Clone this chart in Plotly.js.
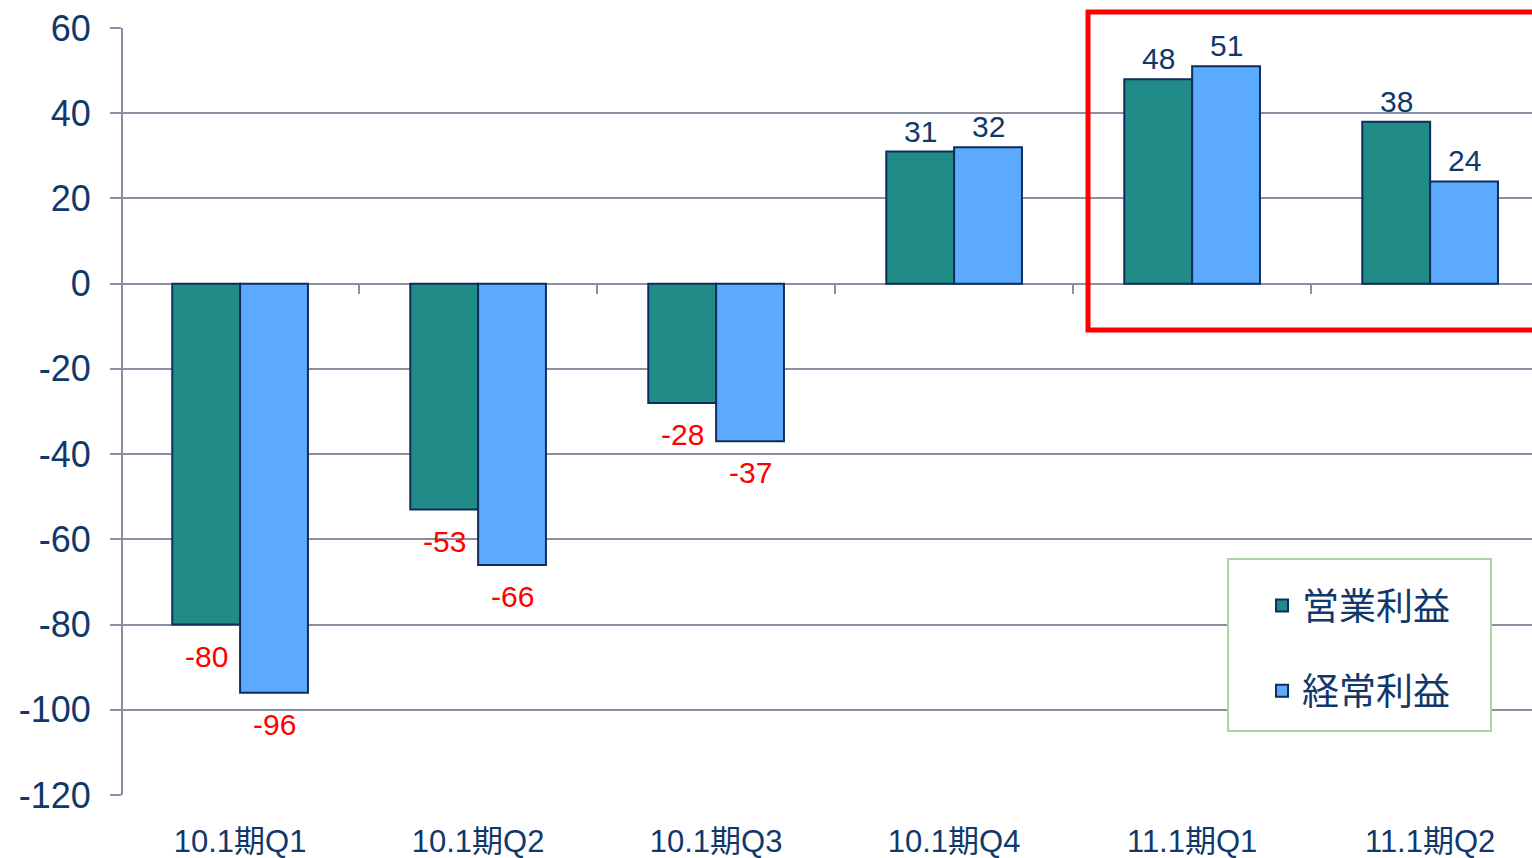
<!DOCTYPE html>
<html>
<head>
<meta charset="utf-8">
<script src="https://cdn.plot.ly/plotly-3.0.1.min.js"></script>
<style>
  html, body { margin: 0; padding: 0; background: #fff; overflow: hidden; }
  #myPlot { width: 1532px; height: 858px; }
</style>
</head>
<body>
<div id="myPlot"></div>
<script>
// quarterly results (millions)
var quarters = ["10.1期Q1", "10.1期Q2", "10.1期Q3", "10.1期Q4", "11.1期Q1", "11.1期Q2"];
var opProfit = [-80, -53, -28, 31, 48, 38];     // 営業利益
var ordProfit = [-96, -66, -37, 32, 51, 24];    // 経常利益
var seriesNames = ["営業利益", "経常利益"];
var yTicks = [-120, -100, -80, -60, -40, -20, 0, 20, 40, 60];

var navy = "#10386B";
var gridCol = "#8A8FA3";
var fontFam = "Liberation Sans, Arial, Noto Sans CJK JP, sans-serif";

function barTrace(name, vals, color, grp) {
  return {
    type: "bar",
    name: name,
    x: quarters,
    y: vals,
    legendgroup: grp,
    marker: {color: color, line: {color: "#0F2D5A", width: 2}},
    hoverinfo: "x+y"
  };
}

var data = [
  barTrace(seriesNames[0], opProfit, "#218B87", "a"),
  barTrace(seriesNames[1], ordProfit, "#5CABFF", "b"),
  // invisible helper so the zero-line axis gets its categories
  {type: "scatter", mode: "markers", x: quarters, y: quarters.map(function(){ return 0; }),
   xaxis: "x2", marker: {opacity: 0}, showlegend: false, hoverinfo: "skip"}
];

// value labels, red below negative bars, navy above positive ones
var annotations = [];
[opProfit, ordProfit].forEach(function(vals, s) {
  vals.forEach(function(v, i) {
    annotations.push({
      x: quarters[i], y: v, xref: "x", yref: "y",
      text: String(v), showarrow: false,
      xshift: s === 0 ? -34 : 34,
      yanchor: v < 0 ? "top" : "bottom",
      yshift: v < 0 ? -13 : 2,
      font: {size: 30, color: v < 0 ? "#FF0000" : navy, family: fontFam}
    });
  });
});

var xRange = [-0.492, 5.428];

var layout = {
  width: 1532,
  height: 858,
  margin: {l: 123, r: 0, t: 28, b: 63},
  paper_bgcolor: "#fff",
  plot_bgcolor: "#fff",
  font: {family: fontFam, color: navy},
  barmode: "group",
  bargap: 0.43,
  bargroupgap: 0,
  showlegend: true,
  legend: {
    x: 0.8084, y: 0.2868, xanchor: "left", yanchor: "top",
    borderwidth: 0, bgcolor: "rgba(0,0,0,0)",
    traceorder: "grouped", tracegroupgap: 34,
    font: {size: 37, color: navy, family: "Noto Sans CJK JP, sans-serif"}
  },
  xaxis: {
    type: "category",
    categoryorder: "array", categoryarray: quarters,
    range: xRange,
    showgrid: false, zeroline: false, showline: false,
    ticks: "", ticklabelstandoff: 25,
    tickfont: {size: 31, color: navy}
  },
  xaxis2: {
    type: "category",
    categoryorder: "array", categoryarray: quarters,
    overlaying: "x", anchor: "free", position: 0.6663,
    range: xRange,
    showgrid: false, zeroline: false, showline: false,
    ticks: "outside", tickson: "boundaries", ticklen: 9, tickwidth: 2, tickcolor: gridCol,
    showticklabels: false
  },
  yaxis: {
    range: [-120, 60],
    tickvals: yTicks,
    ticktext: yTicks.map(String),
    showgrid: true, gridcolor: gridCol, gridwidth: 2,
    zeroline: true, zerolinecolor: gridCol, zerolinewidth: 2,
    showline: true, linecolor: gridCol, linewidth: 2,
    ticks: "outside", ticklen: 11, tickwidth: 2, tickcolor: gridCol,
    ticklabelstandoff: 12,
    tickfont: {size: 36, color: navy}
  },
  shapes: [
    // legend frame
    {type: "rect", xref: "paper", yref: "paper", layer: "above",
     x0: 0.7843, x1: 0.9709, y0: 0.0834, y1: 0.3077,
     fillcolor: "#fff", line: {color: "#A8D5A0", width: 2}},
    // red highlight box
    {type: "rect", xref: "paper", yref: "paper",
     x0: 0.6849, x1: 1.05, y0: 0.6063, y1: 1.0209,
     line: {color: "#FF0000", width: 5}}
  ],
  annotations: annotations
};

Plotly.newPlot("myPlot", data, layout, {displayModeBar: false, staticPlot: true});
</script>
</body>
</html>
